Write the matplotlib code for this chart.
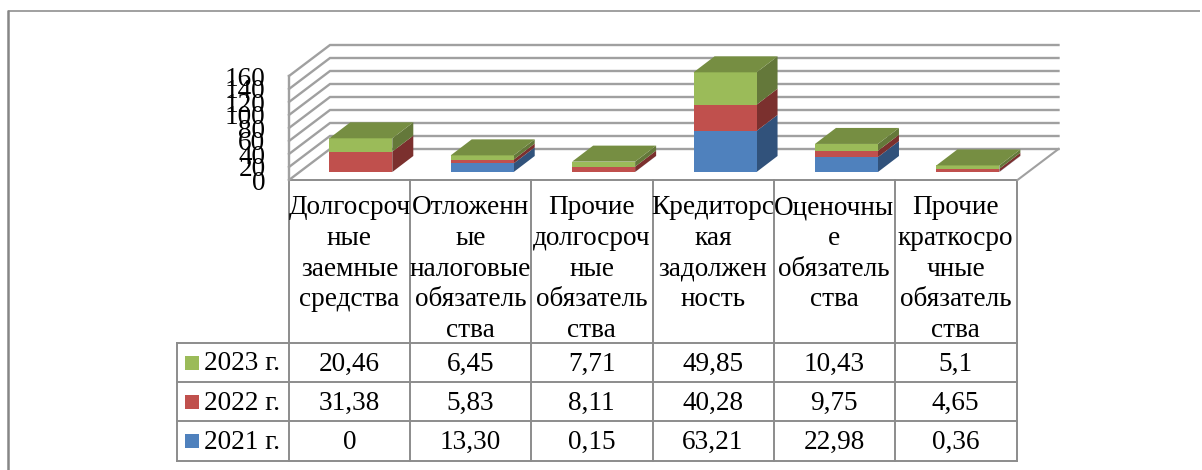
import matplotlib
matplotlib.use("Agg")
import matplotlib.pyplot as plt
from matplotlib.patches import Polygon, Rectangle

plt.rcParams['font.family'] = ['Liberation Serif', 'DejaVu Serif']

# Values by year and liability type
categories = ["Долгосроч\nные\nзаемные\nсредства",
              "Отложенн\nые\nналоговые\nобязатель\nства",
              "Прочие\nдолгосроч\nные\nобязатель\nства",
              "Кредиторс\nкая\nзадолжен\nность",
              "Оценочны\nе\nобязатель\nства",
              "Прочие\nкраткосро\nчные\nобязатель\nства"]
years = ["2021 г.", "2022 г.", "2023 г."]
v2021 = [0, 13.30, 0.15, 63.21, 22.98, 0.36]
v2022 = [31.38, 5.83, 8.11, 40.28, 9.75, 4.65]
v2023 = [20.46, 6.45, 7.71, 49.85, 10.43, 5.1]
labels2021 = ["0", "13,30", "0,15", "63,21", "22,98", "0,36"]
labels2022 = ["31,38", "5,83", "8,11", "40,28", "9,75", "4,65"]
labels2023 = ["20,46", "6,45", "7,71", "49,85", "10,43", "5,1"]
yticks = list(range(0, 161, 20))

front = ["#4F81BD", "#C0504D", "#9BBB59"]
side = ["#31527B", "#7B302E", "#64783A"]
TOPCAP = "#768E42"
GRID = "#A0A0A0"
LINE = "#8C8C8C"
FS = 19.6

W, H = 1202, 470
fig = plt.figure(figsize=(W / 100, H / 100), dpi=100, facecolor="white")

# Overlay in pixel units for the outer frame and the data table
pg = fig.add_axes([0, 0, 1, 1])
pg.set_xlim(0, W)
pg.set_ylim(H, 0)
pg.axis("off")

# Plot axes: category index horizontally, value vertically
X0, X1, Y0, Y1 = 289, 1017.5, 180, 76
ax = fig.add_axes([X0 / W, 1 - Y0 / H, (X1 - X0) / W, (Y0 - Y1) / H])
ax.set_xlim(0, 6)
ax.set_ylim(0, 160)
ax.patch.set_alpha(0)
for s in ax.spines.values():
    s.set_visible(False)
ax.set_xticks([])
ax.set_yticks(yticks)
ax.set_yticklabels([str(t) for t in yticks], fontsize=FS)
ax.tick_params(axis="y", length=0, pad=17)

px_x = 6 / (X1 - X0)
px_y = 160 / (Y0 - Y1)
DX, DY = 41 * px_x, 31 * px_y       # depth of the chart box
BW = 63 * px_x                      # bar front width
BDX, BDY = 21 * px_x, 16 * px_y     # bar depth
BX, GY = 40.3 * px_x, 8 * px_y      # bar inset from the front floor edge

# Gridlines on back and side walls
for t in yticks:
    ax.plot([0, DX, 6 + DX], [t, t + DY, t + DY], color=GRID, lw=1.7,
            clip_on=False, zorder=1, solid_joinstyle="miter")
ax.plot([0, 0], [0, 160], color=GRID, lw=1.7, clip_on=False, zorder=1)
ax.plot([6, 6 + DX], [0, DY], color=GRID, lw=1.5, clip_on=False, zorder=1)

# Stacked 3-D columns
for i in range(6):
    xl = i + BX
    bottom = 0
    stack = [v2021[i], v2022[i], v2023[i]]
    for k, v in enumerate(stack):
        if v <= 0:
            continue
        y0, y1 = GY + bottom, GY + bottom + v
        ax.add_patch(Polygon([(xl + BW, y0), (xl + BW + BDX, y0 + BDY),
                              (xl + BW + BDX, y1 + BDY), (xl + BW, y1)],
                             fc=side[k], ec="none", clip_on=False, zorder=3))
        ax.add_patch(Rectangle((xl, y0), BW, v, fc=front[k], ec="none",
                               clip_on=False, zorder=4))
        bottom += v
    yt = GY + bottom
    ax.add_patch(Polygon([(xl, yt), (xl + BW, yt), (xl + BW + BDX, yt + BDY),
                          (xl + BDX, yt + BDY)], fc=TOPCAP, ec="none",
                         clip_on=False, zorder=5))

# Outer frame: left and top edges only
pg.plot([8, 8], [470, 10], color="#868686", lw=1.8, solid_capstyle="butt")
pg.plot([8, 1200], [10.5, 10.5], color="#868686", lw=1.1, solid_capstyle="butt")

# Data table grid
cols = [289, 410, 531, 652.5, 773.5, 895, 1016.5]
rows = [343, 382, 421, 461]
for x in cols:
    pg.plot([x, x], [180, rows[-1]], color=LINE, lw=1.4)
pg.plot([177, 177], [rows[0], rows[-1]], color=LINE, lw=1.4)
pg.plot([289, 1016.5], [180, 180], color=LINE, lw=1.4)
for y in rows:
    pg.plot([177, 1016.5], [y, y], color=LINE, lw=1.4)

# Category headers
for i, label in enumerate(categories):
    cx = (cols[i] + cols[i + 1]) / 2
    for j, part in enumerate(label.split("\n")):
        pg.text(cx, 207.5 + j * 30.8, part, ha="center", va="center",
                fontsize=FS, color="black")

# Table body with legend keys
body = [(years[2], labels2023, front[2]), (years[1], labels2022, front[1]),
        (years[0], labels2021, front[0])]
for r, (name, vals, c) in enumerate(body):
    yc = (rows[r] + rows[r + 1]) / 2
    pg.add_patch(Rectangle((185, yc - 7), 14, 14, fc=c, ec="none"))
    pg.text(204.5, yc + 1.5, name, ha="left", va="center", fontsize=FS, color="black")
    for i, v in enumerate(vals):
        pg.text((cols[i] + cols[i + 1]) / 2, yc + 1.5, v, ha="center", va="center",
                fontsize=FS, color="black")

fig.savefig("out.png", dpi=100)
